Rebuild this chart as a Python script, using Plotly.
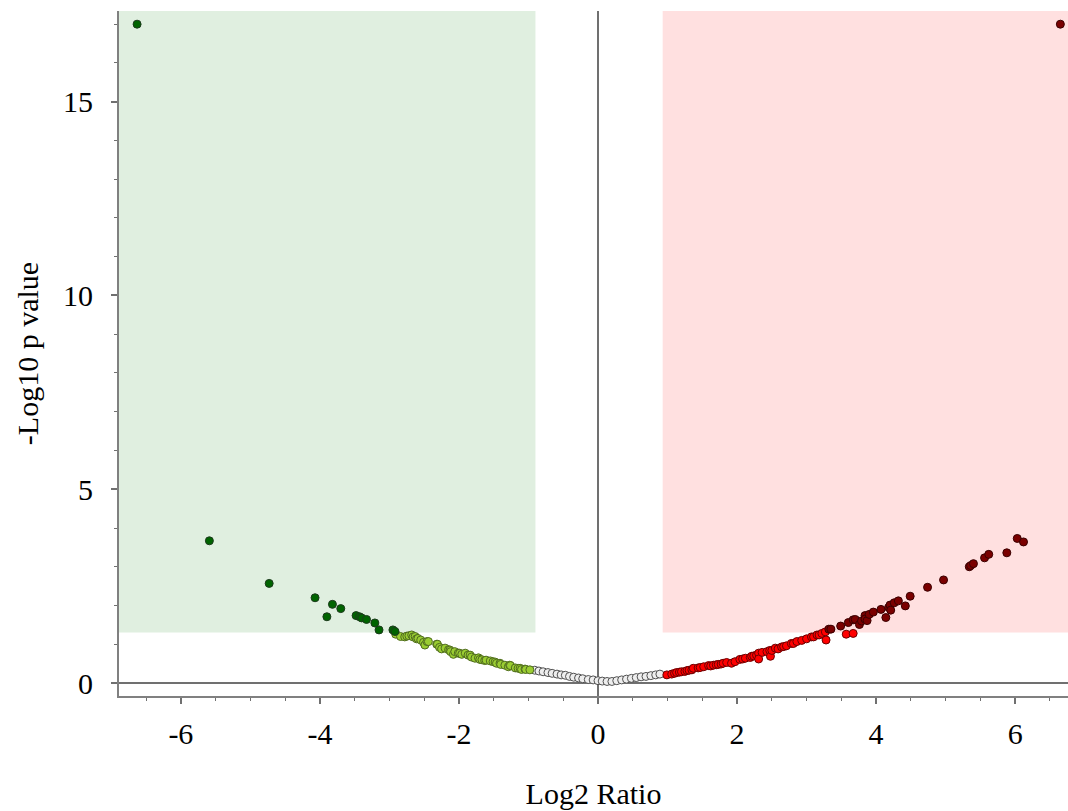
import plotly.graph_objects as go

# ---- data ----
sig_down_x = [-6.63, -5.59, -4.73, -4.07, -3.82, -3.90, -3.70, -3.48, -3.43, -3.40, -3.33, -3.21, -3.15, -2.95, -2.92]
sig_down_y = [17.0, 3.67, 2.57, 2.20, 2.03, 1.71, 1.92, 1.74, 1.71, 1.68, 1.64, 1.55, 1.37, 1.37, 1.33]

down_x = [-2.91, -2.84, -2.78, -2.75, -2.72, -2.68, -2.66, -2.63, -2.61, -2.59, -2.55, -2.51, -2.49, -2.46,
          -2.44, -2.32, -2.31, -2.28, -2.25, -2.20, -2.15, -2.13, -2.12, -2.08, -2.06, -2.01, -1.99, -1.96,
          -1.91, -1.87, -1.84, -1.82, -1.77, -1.72, -1.70, -1.67, -1.63, -1.61, -1.55, -1.51, -1.48, -1.46,
          -1.41, -1.40, -1.34, -1.29, -1.27, -1.26, -1.19, -1.15, -1.12, -1.10, -1.05, -1.04, -0.98]
down_y = [1.26, 1.20, 1.19, 1.21, 1.22, 1.24, 1.19, 1.20, 1.14, 1.15, 1.11, 1.05, 0.98, 1.07,
          1.07, 1.00, 1.00, 0.92, 0.88, 0.90, 0.86, 0.85, 0.81, 0.74, 0.81, 0.77, 0.77, 0.74,
          0.77, 0.72, 0.72, 0.67, 0.64, 0.65, 0.61, 0.60, 0.58, 0.59, 0.57, 0.55, 0.54, 0.51,
          0.51, 0.48, 0.46, 0.42, 0.46, 0.45, 0.39, 0.38, 0.38, 0.35, 0.36, 0.35, 0.34]

ns_x = [-0.91, -0.85, -0.79, -0.72, -0.66, -0.59, -0.53, -0.47, -0.41, -0.35, -0.28, -0.22, -0.14, -0.07,
        0.00, 0.06, 0.13, 0.20, 0.27, 0.34, 0.41, 0.48, 0.55, 0.62, 0.69, 0.76, 0.83, 0.89]
ns_y = [0.33, 0.31, 0.29, 0.27, 0.25, 0.23, 0.21, 0.20, 0.17, 0.15, 0.13, 0.11, 0.09, 0.08,
        0.06, 0.05, 0.04, 0.04, 0.06, 0.08, 0.10, 0.12, 0.14, 0.16, 0.17, 0.19, 0.21, 0.23]

up_x = [0.99, 1.06, 1.10, 1.13, 1.17, 1.20, 1.25, 1.28, 1.31, 1.35, 1.37, 1.44, 1.47, 1.52, 1.59, 1.62,
        1.66, 1.70, 1.73, 1.77, 1.80, 1.85, 1.92, 1.97, 2.04, 2.08, 2.12, 2.19, 2.21, 2.24, 2.28, 2.31,
        2.31, 2.36, 2.43, 2.47, 2.48, 2.50, 2.55, 2.59, 2.64, 2.67, 2.71, 2.78, 2.81, 2.86, 2.93, 3.00,
        3.07, 3.10, 3.15, 3.18, 3.22, 3.27, 3.28, 3.57, 3.67]
up_y = [0.21, 0.23, 0.25, 0.27, 0.28, 0.29, 0.30, 0.32, 0.33, 0.34, 0.38, 0.39, 0.40, 0.42, 0.45, 0.44,
        0.46, 0.47, 0.48, 0.49, 0.51, 0.53, 0.51, 0.55, 0.61, 0.62, 0.64, 0.66, 0.69, 0.70, 0.72, 0.77,
        0.62, 0.79, 0.81, 0.84, 0.69, 0.84, 0.90, 0.88, 0.93, 0.94, 0.96, 1.02, 1.02, 1.07, 1.10, 1.14,
        1.19, 1.19, 1.24, 1.24, 1.28, 1.32, 1.11, 1.26, 1.28]

sig_up_x = [3.32, 3.35, 3.49, 3.60, 3.67, 3.70, 3.76, 3.79, 3.84, 3.84, 3.87, 3.90, 3.96, 4.07, 4.14,
            4.18, 4.20, 4.21, 4.26, 4.32, 4.42, 4.49, 4.74, 4.97, 5.34, 5.36, 5.40, 5.56, 5.62, 5.88,
            6.03, 6.12, 6.65]
sig_up_y = [1.39, 1.39, 1.47, 1.56, 1.63, 1.64, 1.51, 1.60, 1.74, 1.65, 1.61, 1.77, 1.83, 1.90, 1.69,
            1.95, 2.01, 1.88, 2.07, 2.12, 1.99, 2.24, 2.47, 2.66, 3.00, 3.03, 3.08, 3.23, 3.32, 3.36,
            3.73, 3.64, 17.0]

x_ticks = [-6, -4, -2, 0, 2, 4, 6]
x_tick_labels = ["-6", "-4", "-2", "0", "2", "4", "6"]
y_ticks = [0, 5, 10, 15]
y_tick_labels = ["0", "5", "10", "15"]

fc_low, fc_high = -0.9, 0.93
p_cut = 1.301
x_range = [-6.89, 6.76]
y_range = [-0.335, 17.34]

FONT = "Liberation Serif, Times New Roman, serif"

fig = go.Figure()

def add(xs, ys, fill, edge, size=8):
    fig.add_trace(go.Scatter(x=xs, y=ys, mode="markers",
                             marker=dict(size=size, color=fill, line=dict(color=edge, width=1)),
                             hoverinfo="x+y"))

add(ns_x, ns_y, "#eeeeee", "#505050")
add(down_x, down_y, "#9acd32", "#4f6b1f")
add(up_x, up_y, "#ff0000", "#6b0000")
add(sig_down_x, sig_down_y, "#006400", "#1c3a1c")
add(sig_up_x, sig_up_y, "#7a0000", "#3a0000")

# significance regions
fig.add_shape(type="rect", xref="x", yref="y", x0=x_range[0], x1=fc_low, y0=p_cut, y1=y_range[1],
              fillcolor="#e0efe0", line=dict(width=0), layer="below")
fig.add_shape(type="rect", xref="x", yref="y", x0=fc_high, x1=x_range[1], y0=p_cut, y1=y_range[1],
              fillcolor="#ffe0e0", line=dict(width=0), layer="below")

axis_common = dict(
    showgrid=False, showline=True, linecolor="#808080", linewidth=2,
    ticks="outside", ticklen=6, tickwidth=1.5, tickcolor="#707070",
    zeroline=True, zerolinecolor="#707070", zerolinewidth=1.5,
    tickfont=dict(family=FONT, size=30, color="black"),
)

fig.update_xaxes(range=x_range, tickvals=x_ticks, ticktext=x_tick_labels, ticklabelstandoff=4,
                 minor=dict(dtick=0.5, tick0=0, ticks="outside", ticklen=3, tickcolor="#707070", tickwidth=1.2),
                 title=dict(text="Log2 Ratio", font=dict(family=FONT, size=30, color="black"), standoff=34),
                 **axis_common)
fig.update_yaxes(range=y_range, tickvals=y_ticks, ticktext=y_tick_labels, ticklabelstandoff=12,
                 minor=dict(dtick=1, tick0=0, ticks="outside", ticklen=3, tickcolor="#707070", tickwidth=1.2),
                 title=dict(text="-Log10 p value", font=dict(family=FONT, size=30, color="black"), standoff=16),
                 **axis_common)

fig.update_layout(width=1068, height=811, margin=dict(l=119, r=0, t=11, b=115),
                  plot_bgcolor="white", paper_bgcolor="white", showlegend=False)

fig.write_html("out.html")
